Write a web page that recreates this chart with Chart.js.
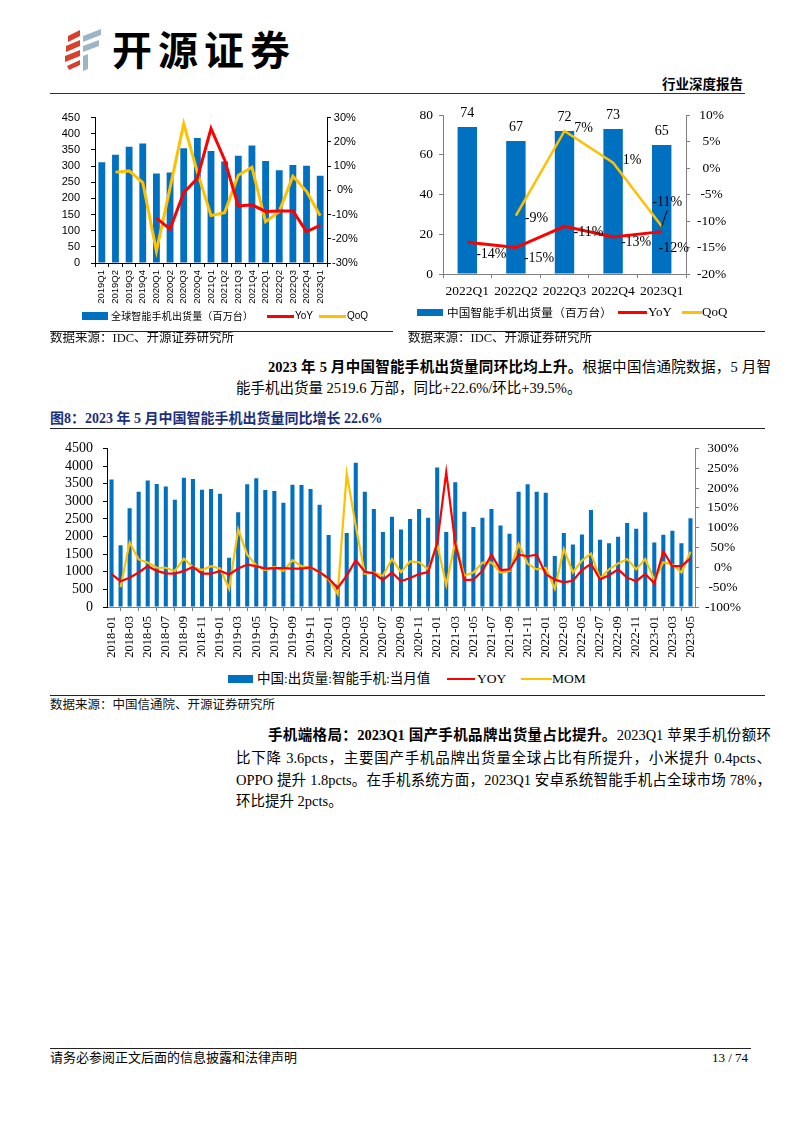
<!DOCTYPE html>
<html>
<head>
<meta charset="utf-8">
<script src="https://cdn.jsdelivr.net/npm/chart.js@4.4.0/dist/chart.umd.min.js"></script>
<style>
  html,body{margin:0;padding:0;background:#fff;}
  body{width:794px;height:1123px;position:relative;overflow:hidden;color:#000;
       font-family:"Liberation Serif","Noto Sans CJK SC",serif;}
  .abs{position:absolute;white-space:nowrap;}
  .rule{position:absolute;height:0;border-top:1px solid #222;}
  canvas{position:absolute;}
  .src{font-size:12.5px;line-height:16px;color:#111;}
  .body{font-size:14.5px;line-height:22px;}
  .just{text-align:justify;text-align-last:justify;}
  b{font-weight:700;}
  .sw{position:absolute;}
  .lg{position:absolute;white-space:nowrap;}
</style>
</head>
<body>

<!-- header -->
<svg class="abs" style="left:62px;top:27px" width="42" height="44" viewBox="0 0 42 44">
  <polygon points="6,9 18,3 18,9 6,15" fill="#d8402c"/>
  <polygon points="4,19 18,13 18,19 4,25" fill="#d8402c"/>
  <polygon points="3,29 18,23 18,29 3,35" fill="#d8402c"/>
  <polygon points="5,39 18,33 18,38 7,43" fill="#d8402c"/>
  <polygon points="21,9 39,2 39,8 21,15" fill="#9db6c6"/>
  <polygon points="21,19 37,13 37,19 21,25" fill="#9db6c6"/>
  <polygon points="21,29 26,27 26,42 21,44" fill="#9db6c6"/>
</svg>
<div class="abs" style="left:112px;top:22px;font-family:'Noto Sans CJK SC';font-weight:700;font-size:40px;line-height:52px;letter-spacing:6px;">开源证券</div>
<div class="abs" style="left:662px;top:75px;font-family:'Noto Sans CJK SC';font-weight:700;font-size:13.5px;line-height:16px;">行业深度报告</div>
<div class="rule" style="left:50px;top:93px;width:695px;border-top:1.5px solid #333;"></div>

<!-- top charts -->
<canvas id="c1" width="345" height="205" style="left:50px;top:100px;"></canvas>
<canvas id="c2" width="337" height="200" style="left:408px;top:100px;"></canvas>

<!-- legend chart 1 -->
<div class="sw" style="left:82px;top:312px;width:26px;height:8px;background:#0070C0;"></div>
<div class="lg" style="left:111px;top:309px;font-family:'Noto Sans CJK SC';font-size:10px;line-height:14px;letter-spacing:0.15px;">全球智能手机出货量（百万台）</div>
<div class="sw" style="left:267px;top:314.5px;width:27px;height:3px;background:#FF0000;"></div>
<div class="lg" style="left:295px;top:309px;font-family:'Liberation Sans';font-size:10px;line-height:14px;">YoY</div>
<div class="sw" style="left:319px;top:314.5px;width:27px;height:3px;background:#FFC000;"></div>
<div class="lg" style="left:347px;top:309px;font-family:'Liberation Sans';font-size:10px;line-height:14px;">QoQ</div>

<!-- legend chart 2 -->
<div class="sw" style="left:417px;top:308.5px;width:26px;height:7px;background:#0070C0;"></div>
<div class="lg" style="left:447px;top:304px;font-family:'Noto Sans CJK SC';font-size:11.6px;line-height:16px;letter-spacing:0.2px;">中国智能手机出货量（百万台）</div>
<div class="sw" style="left:618px;top:311px;width:29px;height:2.5px;background:#FF0000;"></div>
<div class="lg" style="left:648px;top:304px;font-family:'Liberation Serif';font-size:13px;line-height:16px;">YoY</div>
<div class="sw" style="left:682px;top:311px;width:20px;height:2.5px;background:#FFC000;"></div>
<div class="lg" style="left:702px;top:304px;font-family:'Liberation Serif';font-size:13px;line-height:16px;">QoQ</div>

<div class="rule" style="left:50px;top:331px;width:343px;"></div>
<div class="rule" style="left:408px;top:331px;width:357px;"></div>
<div class="abs src" style="left:50px;top:330px;">数据来源：IDC、开源证券研究所</div>
<div class="abs src" style="left:408px;top:330px;">数据来源：IDC、开源证券研究所</div>

<!-- paragraph 1 -->
<div class="abs body just" style="left:268px;top:356px;width:503px;"><b>2023 年 5 月中国智能手机出货量同环比均上升。</b>根据中国信通院数据，5 月智</div>
<div class="abs body" style="left:236px;top:377px;">能手机出货量 2519.6 万部，同比+22.6%/环比+39.5%。</div>

<!-- figure 8 title -->
<div class="abs" style="left:50px;top:410px;font-size:14px;line-height:18px;font-weight:700;color:#1b2f7d;">图8：2023 年 5 月中国智能手机出货量同比增长 22.6%</div>
<div class="rule" style="left:50px;top:428px;width:715px;"></div>

<canvas id="c3" width="700" height="236" style="left:50px;top:430px;"></canvas>

<!-- legend chart 3 -->
<div class="sw" style="left:228px;top:675px;width:25px;height:8px;background:#0070C0;"></div>
<div class="lg" style="left:257px;top:670px;font-size:13.5px;line-height:18px;">中国:出货量:智能手机:当月值</div>
<div class="sw" style="left:447px;top:677.5px;width:28px;height:2.5px;background:#FF0000;"></div>
<div class="lg" style="left:477px;top:670px;font-family:'Liberation Serif';font-size:13.5px;line-height:18px;">YOY</div>
<div class="sw" style="left:521px;top:677.5px;width:31px;height:2.5px;background:#FFC000;"></div>
<div class="lg" style="left:552px;top:670px;font-family:'Liberation Serif';font-size:13.5px;line-height:18px;">MOM</div>

<div class="rule" style="left:50px;top:695px;width:715px;"></div>
<div class="abs src" style="left:50px;top:697px;">数据来源：中国信通院、开源证券研究所</div>

<!-- paragraph 2 -->
<div class="abs body just" style="left:268px;top:724px;width:503px;"><b>手机端格局：2023Q1 国产手机品牌出货量占比提升。</b>2023Q1 苹果手机份额环</div>
<div class="abs body just" style="left:236px;top:747px;width:535px;">比下降 3.6pcts，主要国产手机品牌出货量全球占比有所提升，小米提升 0.4pcts、</div>
<div class="abs body just" style="left:236px;top:769px;width:535px;">OPPO 提升 1.8pcts。在手机系统方面，2023Q1 安卓系统智能手机占全球市场 78%，</div>
<div class="abs body" style="left:236px;top:790px;">环比提升 2pcts。</div>

<!-- footer -->
<div class="rule" style="left:50px;top:1048px;width:701px;"></div>
<div class="abs" style="left:50px;top:1050px;font-size:13px;line-height:16px;">请务必参阅正文后面的信息披露和法律声明</div>
<div class="abs" style="left:700px;top:1050px;width:48px;text-align:right;font-family:'Liberation Serif';font-size:13px;line-height:16px;">13 / 74</div>

<script>
// ================= DATA =================
// Chart 1: global smartphone shipments (million units), quarterly
const globalQuarters = ['2019Q1','2019Q2','2019Q3','2019Q4','2020Q1','2020Q2','2020Q3','2020Q4',
  '2021Q1','2021Q2','2021Q3','2021Q4','2022Q1','2022Q2','2022Q3','2022Q4','2023Q1'];
const globalShipments = [312, 335, 360, 370, 277, 280, 355, 387, 347, 314, 332, 364, 316, 287, 303, 301, 270];
const globalYoY = [null, null, null, null, -11.5, -16, -1, 5, 25.5, 12.5, -6.5, -6, -8.7, -8.5, -8.5, -17, -14.5];
const globalQoQ = [null, 7.5, 8, 3.2, -25, 1, 27.5, 7.5, -10.4, -9.2, 6.2, 9.5, -13, -8.8, 5.8, -0.4, -10.5];
const globalLeftTicks = {min: 0, max: 450, step: 50};
const globalRightTicks = {min: -30, max: 30, step: 10};

// Chart 2: China smartphone shipments (million units), quarterly
const chinaQuarters = ['2022Q1','2022Q2','2022Q3','2022Q4','2023Q1'];
const chinaShipments = [74, 67, 72, 73, 65];
const chinaYoY = [-14, -15, -11, -13, -12];
const chinaQoQ = [null, -9, 7, 1, -11];
const chinaLeftTicks = {min: 0, max: 80, step: 20};
const chinaRightTicks = {min: -20, max: 10, step: 5};

// Chart 3: China monthly smartphone shipments (10k units)
const months = [
  '2018-01','2018-02','2018-03','2018-04','2018-05','2018-06','2018-07','2018-08','2018-09','2018-10','2018-11','2018-12',
  '2019-01','2019-02','2019-03','2019-04','2019-05','2019-06','2019-07','2019-08','2019-09','2019-10','2019-11','2019-12',
  '2020-01','2020-02','2020-03','2020-04','2020-05','2020-06','2020-07','2020-08','2020-09','2020-10','2020-11','2020-12',
  '2021-01','2021-02','2021-03','2021-04','2021-05','2021-06','2021-07','2021-08','2021-09','2021-10','2021-11','2021-12',
  '2022-01','2022-02','2022-03','2022-04','2022-05','2022-06','2022-07','2022-08','2022-09','2022-10','2022-11','2022-12',
  '2023-01','2023-02','2023-03','2023-04','2023-05'];
const monthlyShipments = [
  3620, 1750, 2800, 3270, 3590, 3490, 3420, 3040, 3670, 3630, 3330, 3350,
  3210, 1400, 2690, 3480, 3650, 3320, 3290, 2960, 3470, 3460, 3350, 2900,
  2040, 640, 2100, 4090, 3270, 2780, 2130, 2560, 2200, 2500, 2780, 2530,
  3960, 2130, 3540, 2700, 2270, 2530, 2780, 2310, 2080, 3270, 3480, 3270,
  3240, 1450, 2100, 1770, 2060, 2750, 1910, 1810, 1990, 2380, 2220, 2690,
  1830, 2050, 2160, 1810, 2520];
const monthlyYOY = [
  -17, -35, -26, -13, 3, -9, -15, -16, -9, 1, -16, -16,
  -9, -18, -3, 7, 3, -3, -2, -2, -3, -3, 0, -12,
  -28, -52, -21, 18, -11, -15, -32, -13, -35, -27, -17, -12,
  61, 240, 60, -32, -31, -9, 32, -7, -5, 32, 28, 32,
  -17, -31, -38, -34, -7, 9, -30, -20, -5, -26, -35, -17,
  -40, 40, 3, 3, 22.6];
const monthlyMOM = [
  null, -50, 63, 20, 12, -1, -1, -9, 22, 1, -7, 3,
  -3, -54, 96, 32, 5, -7, 1, -9, 18, 3, -1, -12,
  -30, -67, 237, 104, -16, -13, -21, 21, -12, 15, 13, -5,
  59, -44, 65, -21, -13, 12, 12, -13, -9, 59, 9, -5,
  -1, -54, 46, -13, 17, 35, -28, -5, 10, 21, -5, 21,
  -31, 13, 7, -13, 39.5];
const monthlyLeftTicks = {min: 0, max: 4500, step: 500};
const monthlyRightTicks = {min: -100, max: 300, step: 50};

// ================= STYLE =================
const BLUE = '#0070C0', RED = '#FF0000', GOLD = '#FFC000';
Chart.defaults.animation = false;

function axisY(pos, rng, o) {
  return {
    position: pos, min: rng.min, max: rng.max,
    ticks: Object.assign({stepSize: rng.step, autoSkip: false, color: '#000', padding: o.padding,
      font: {family: o.family, size: o.size},
      callback: o.pct ? (v => v + '%') : (v => String(v))},
      o.center ? {crossAlign: 'center'} : {}),
    grid: {drawOnChartArea: false, drawTicks: true, tickLength: 4, color: o.color},
    border: {display: true, color: o.color, width: 1},
    afterFit: s => { s.width = o.width; }
  };
}

// Point label plugin (chart 2)
const pointLabels = {
  id: 'pointLabels',
  afterDatasetsDraw(chart, args, opts) {
    const ctx = chart.ctx;
    ctx.save();
    ctx.font = opts.font;
    ctx.fillStyle = '#000';
    ctx.textAlign = 'center';
    ctx.textBaseline = 'middle';
    (opts.sets || []).forEach(set => {
      const meta = chart.getDatasetMeta(set.dataset);
      const values = chart.data.datasets[set.dataset].data;
      meta.data.forEach((el, i) => {
        const v = values[i];
        if (v === null || v === undefined) return;
        const off = set.offsets ? set.offsets[i] : set.offset;
        const x = el.x + off[0], y = el.y + off[1];
        if (set.leaders && set.leaders[i]) {
          ctx.strokeStyle = '#000'; ctx.lineWidth = 1;
          ctx.beginPath(); ctx.moveTo(el.x, el.y);
          ctx.lineTo(x + set.leaders[i][0], y + set.leaders[i][1]); ctx.stroke();
        }
        ctx.fillText(set.fmt(v), x, y);
      });
    });
    ctx.restore();
  }
};

// ================= CHART 1 =================
new Chart(document.getElementById('c1'), {
  data: {
    labels: globalQuarters,
    datasets: [
      {type: 'bar', label: '全球智能手机出货量（百万台）', data: globalShipments, backgroundColor: BLUE,
       yAxisID: 'y', order: 2, barPercentage: 0.5, categoryPercentage: 1},
      {type: 'line', label: 'YoY', data: globalYoY, borderColor: RED, backgroundColor: RED, borderWidth: 3,
       pointRadius: 0, tension: 0, yAxisID: 'y1', order: 0},
      {type: 'line', label: 'QoQ', data: globalQoQ, borderColor: GOLD, backgroundColor: GOLD, borderWidth: 3,
       pointRadius: 0, tension: 0, yAxisID: 'y1', order: 1}
    ]
  },
  options: {
    responsive: false, devicePixelRatio: 1,
    layout: {padding: {top: 14, left: 0, right: 0, bottom: 0}},
    plugins: {legend: {display: false}, tooltip: {enabled: false}},
    scales: {
      x: {
        ticks: {minRotation: 90, maxRotation: 90, autoSkip: false, padding: 3, color: '#000',
                font: {family: 'Liberation Sans', size: 9.5}},
        grid: {drawOnChartArea: false, tickLength: 4, color: '#000'},
        border: {color: '#000'},
        afterFit: s => { s.height = 42; }
      },
      y: axisY('left', globalLeftTicks, {padding: 11, family: 'Liberation Sans', size: 11, color: '#000', width: 45}),
      y1: axisY('right', globalRightTicks, {padding: 1, family: 'Liberation Sans', size: 11, color: '#000', width: 68, pct: true, center: true})
    }
  }
});

// ================= CHART 2 =================
new Chart(document.getElementById('c2'), {
  data: {
    labels: chinaQuarters,
    datasets: [
      {type: 'bar', label: '中国智能手机出货量（百万台）', data: chinaShipments, backgroundColor: BLUE,
       yAxisID: 'y', order: 2, barPercentage: 0.4, categoryPercentage: 1},
      {type: 'line', label: 'YoY', data: chinaYoY, borderColor: RED, backgroundColor: RED, borderWidth: 3,
       pointRadius: 0, tension: 0, yAxisID: 'y1', order: 0},
      {type: 'line', label: 'QoQ', data: chinaQoQ, borderColor: GOLD, backgroundColor: GOLD, borderWidth: 2.5,
       pointRadius: 0, tension: 0, yAxisID: 'y1', order: 1}
    ]
  },
  plugins: [pointLabels],
  options: {
    responsive: false, devicePixelRatio: 1,
    layout: {padding: {top: 13, left: 0, right: 0, bottom: 0}},
    plugins: {
      legend: {display: false}, tooltip: {enabled: false},
      pointLabels: {
        font: '14px "Liberation Serif"',
        sets: [
          {dataset: 0, offset: [0, -13.5], fmt: v => String(v)},
          {dataset: 1, offsets: [[24, 12], [23, 10.5], [24, 5.5], [23, 5.5], [12, 17]], fmt: v => v + '%'},
          {dataset: 2, offsets: [null, [20.5, 2.5], [19, -3], [19, -2], [5.5, -24]],
           leaders: [null, null, null, null, [0, 8]], fmt: v => v + '%'}
        ]
      }
    },
    scales: {
      x: {
        ticks: {minRotation: 0, maxRotation: 0, autoSkip: false, padding: 5, color: '#000',
                font: {family: 'Liberation Serif', size: 13.5}},
        grid: {drawOnChartArea: false, tickLength: 4, color: '#7f7f7f'},
        border: {color: '#7f7f7f'},
        afterFit: s => { s.height = 26; }
      },
      y: axisY('left', chinaLeftTicks, {padding: 6, family: 'Liberation Serif', size: 13.5, color: '#7f7f7f', width: 35}),
      y1: axisY('right', chinaRightTicks, {padding: 7, family: 'Liberation Serif', size: 13.5, color: '#7f7f7f', width: 59, pct: true, center: true})
    }
  }
});

// ================= CHART 3 =================
new Chart(document.getElementById('c3'), {
  data: {
    labels: months,
    datasets: [
      {type: 'bar', label: '中国:出货量:智能手机:当月值', data: monthlyShipments, backgroundColor: BLUE,
       yAxisID: 'y', order: 2, barPercentage: 0.45, categoryPercentage: 1},
      {type: 'line', label: 'YOY', data: monthlyYOY, borderColor: RED, backgroundColor: RED, borderWidth: 2.2,
       pointRadius: 0, tension: 0, yAxisID: 'y1', order: 0},
      {type: 'line', label: 'MOM', data: monthlyMOM, borderColor: GOLD, backgroundColor: GOLD, borderWidth: 2.2,
       pointRadius: 0, tension: 0, yAxisID: 'y1', order: 1}
    ]
  },
  options: {
    responsive: false, devicePixelRatio: 1,
    layout: {padding: {top: 13, left: 0, right: 0, bottom: 0}},
    plugins: {legend: {display: false}, tooltip: {enabled: false}},
    scales: {
      x: {
        ticks: {minRotation: 90, maxRotation: 90, autoSkip: false, padding: 5, color: '#000',
                font: {family: 'Liberation Serif', size: 12.5},
                callback: (v, i) => (i % 2 === 0 ? months[i] : null)},
        grid: {drawOnChartArea: false, tickLength: 4, color: '#7f7f7f'},
        border: {color: '#7f7f7f'},
        afterFit: s => { s.height = 59; }
      },
      y: axisY('left', monthlyLeftTicks, {padding: 10, family: 'Liberation Serif', size: 14, color: '#000', width: 57}),
      y1: axisY('right', monthlyRightTicks, {padding: 6, family: 'Liberation Serif', size: 13.5, color: '#7f7f7f', width: 55, pct: true, center: true})
    }
  }
});
</script>
</body>
</html>
